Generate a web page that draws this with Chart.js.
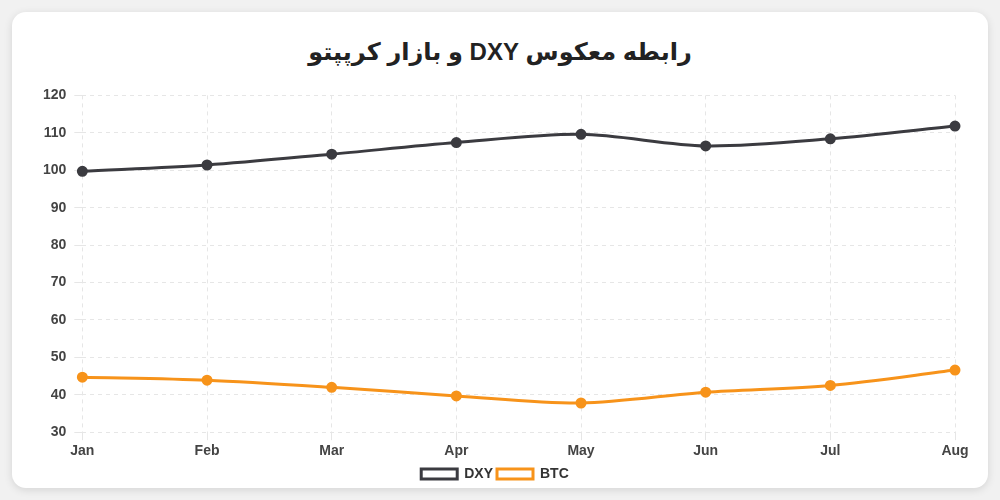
<!DOCTYPE html>
<html>
<head>
<meta charset="utf-8">
<script src="https://cdn.jsdelivr.net/npm/chart.js@4"></script>
<style>
  html, body { margin: 0; padding: 0; background: #f1f1f1; }
  body { width: 1000px; height: 500px; overflow: hidden; font-family: "Liberation Sans", Arial, "DejaVu Sans", sans-serif; }
  .card {
    position: absolute; left: 12px; top: 12px; width: 976px; height: 476px;
    background: #fff; border-radius: 14px; box-shadow: 0 2px 8px rgba(0,0,0,0.12);
  }
  h2 {
    margin: 0; position: absolute; left: 0; right: 0; top: 26px;
    text-align: center; font-size: 24px; font-weight: bold; color: #222;
  }
  .wrap { position: absolute; left: 20px; top: 67px; width: 950px; height: 412px; }
</style>
</head>
<body>
<div class="card">
  <h2 dir="rtl">رابطه معکوس DXY و بازار کرپپتو</h2>
  <div class="wrap"><canvas id="chart"></canvas></div>
</div>
<script>
// values
var months = ['Jan', 'Feb', 'Mar', 'Apr', 'May', 'Jun', 'Jul', 'Aug'];
var dxy = [99.7, 101.4, 104.3, 107.4, 109.6, 106.5, 108.4, 111.8];
var btc = [44.7, 43.9, 42.0, 39.7, 37.8, 40.7, 42.5, 46.6];

var ctx = document.getElementById('chart').getContext('2d');
var chart = new Chart(ctx, {
    type: 'line',
    data: {
        labels: months,
        datasets: [{
            label: 'DXY',
            data: dxy,
            borderColor: '#3b3b40',
            backgroundColor: '#3b3b40',
            borderWidth: 3,
            pointRadius: 4,
            tension: 0.3
        }, {
            label: 'BTC',
            data: btc,
            borderColor: '#f7931a',
            backgroundColor: '#f7931a',
            borderWidth: 3,
            pointRadius: 4,
            tension: 0.3
        }]
    },
    options: {
        responsive: true,
        maintainAspectRatio: false,
        animation: false,
        layout: { padding: { left: 3, right: 27 } },
        scales: {
            x: {
                grid: { color: '#e6e6e6', borderDash: [4, 4] },
                border: { dash: [4, 4], display: false },
                ticks: { color: '#444', font: { size: 14, weight: 'bold' } }
            },
            y: {
                min: 30,
                max: 120,
                grid: { color: '#e6e6e6' },
                border: { dash: [4, 4], display: false },
                ticks: { stepSize: 10, padding: 8, color: '#444', font: { size: 14, weight: 'bold' } }
            }
        },
        plugins: {
            legend: {
                position: 'bottom',
                labels: {
                    color: '#333',
                    boxWidth: 36,
                    boxHeight: 10,
                    padding: 4,
                    font: { size: 14, weight: 'bold' },
                    generateLabels: function (c) {
                        return c.data.datasets.map(function (ds, i) {
                            return {
                                text: ds.label,
                                fillStyle: '#fff',
                                strokeStyle: ds.borderColor,
                                lineWidth: 3,
                                fontColor: '#333',
                                datasetIndex: i
                            };
                        });
                    }
                }
            },
            tooltip: { enabled: true }
        }
    }
});
</script>
</body>
</html>
